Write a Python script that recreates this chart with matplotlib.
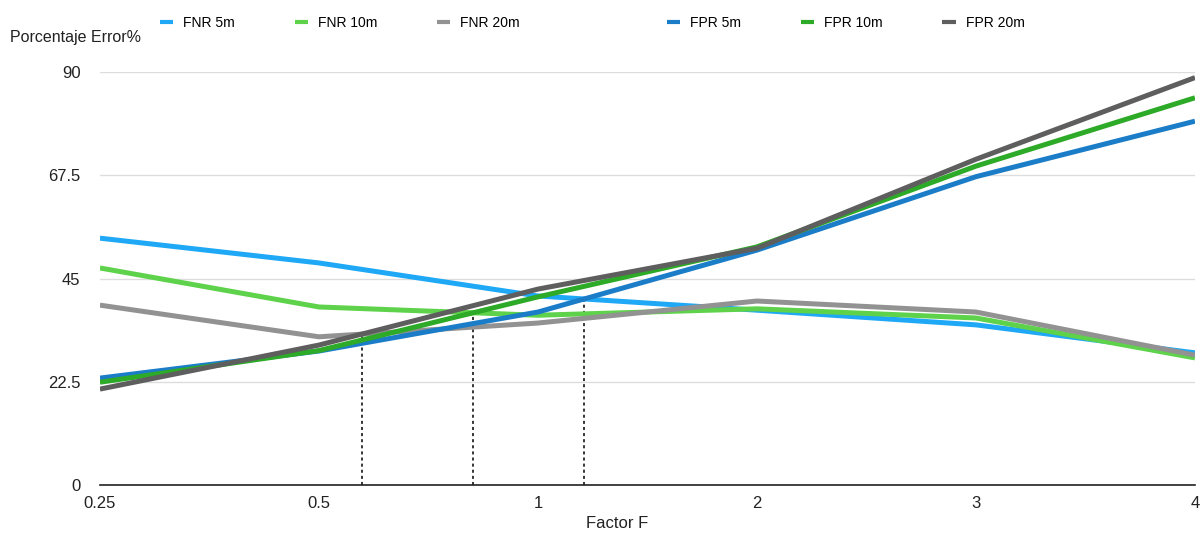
import numpy as np
import matplotlib.pyplot as plt

plt.rcParams['font.family'] = ['Liberation Sans', 'DejaVu Sans']

# factor F (categorias equiespaciadas en el eje x)
factores = ['0.25', '0.5', '1', '2', '3', '4']

# porcentaje de error por distancia
fnr_5m = [53.8, 48.4, 41.2, 38.1, 34.9, 28.8]
fnr_10m = [47.3, 38.8, 37.0, 38.4, 36.4, 27.7]
fnr_20m = [39.2, 32.3, 35.3, 40.1, 37.7, 28.3]
fpr_5m = [23.3, 29.2, 37.7, 51.2, 67.2, 79.3]
fpr_10m = [22.4, 29.3, 41.0, 51.9, 69.5, 84.4]
fpr_20m = [20.9, 30.5, 42.7, 51.6, 71.0, 88.8]

fnr = [('FNR 5m', fnr_5m, '#1ea8f5'),
       ('FNR 10m', fnr_10m, '#5dd24a'),
       ('FNR 20m', fnr_20m, '#929292')]
fpr = [('FPR 5m', fpr_5m, '#1b7dc8'),
       ('FPR 10m', fpr_10m, '#2daa27'),
       ('FPR 20m', fpr_20m, '#5e5e5e')]


def cruce(a, b):
    """Primer punto donde la curva a corta a la curva b (interpolacion lineal)."""
    a = np.asarray(a)
    b = np.asarray(b)
    d = a - b
    for i in range(len(d) - 1):
        if d[i] > 0 and d[i + 1] <= 0:
            t = d[i] / (d[i] - d[i + 1])
            return i + t, a[i] + t * (a[i + 1] - a[i])
    return None


x = np.arange(len(factores))

fig = plt.figure(figsize=(12, 5.34), dpi=100)
ax = fig.add_axes([0.0833, 0.0918, 0.9125, 0.7732])

grupos = []
for grupo in (fnr, fpr):
    lineas = []
    for nombre, vals, color in grupo:
        l, = ax.plot(x, vals, color=color, lw=3.6, label=nombre,
                     solid_capstyle='butt', solid_joinstyle='round')
        lineas.append(l)
    grupos.append(lineas)

# lineas verticales en los cruces FNR/FPR
for (_, a, _), (_, b, _) in zip(fnr[::-1], fpr[::-1]):
    c = cruce(a, b)
    if c:
        ax.plot([c[0], c[0]], [0, c[1]], color='black', lw=1.1,
                ls=(0, (2, 2)), zorder=1)

ax.set_xlim(0, len(factores) - 1)
ax.set_ylim(0, 90)
ax.set_xticks(x)
ax.set_xticklabels(factores)
ax.set_yticks([0, 22.5, 45, 67.5, 90])
ax.set_yticklabels(['0', '22.5', '45', '67.5', '90'])
ax.tick_params(length=0, labelsize=12, colors='#222222')
ax.tick_params(axis='y', pad=14)
ax.tick_params(axis='x', pad=8)
ax.grid(axis='y', color='#dddddd', lw=1)
ax.set_axisbelow(True)
for s in ['top', 'right', 'left']:
    ax.spines[s].set_visible(False)
ax.spines['bottom'].set_color('#222222')
ax.spines['bottom'].set_linewidth(1.2)

fig.text(0.514, 0.019, 'Factor F', fontsize=12, color='#222222',
         ha='center', va='center')
fig.text(0.008, 0.929, 'Porcentaje Error%', fontsize=11.5, color='#222222',
         va='center')

# leyenda en dos bloques: FNR a la izquierda, FPR a la derecha
for lineas, x0 in zip(grupos, [0.1333, 0.5558]):
    leg = fig.legend(handles=lineas, loc='center left',
                     bbox_to_anchor=(x0, 0.957), ncol=3, frameon=False,
                     fontsize=10, handlelength=0.95, handletextpad=0.72,
                     columnspacing=4.3, borderpad=0, borderaxespad=0)
    for h in leg.legend_handles:
        h.set_linewidth(3)

fig.savefig('out.png', dpi=100)
